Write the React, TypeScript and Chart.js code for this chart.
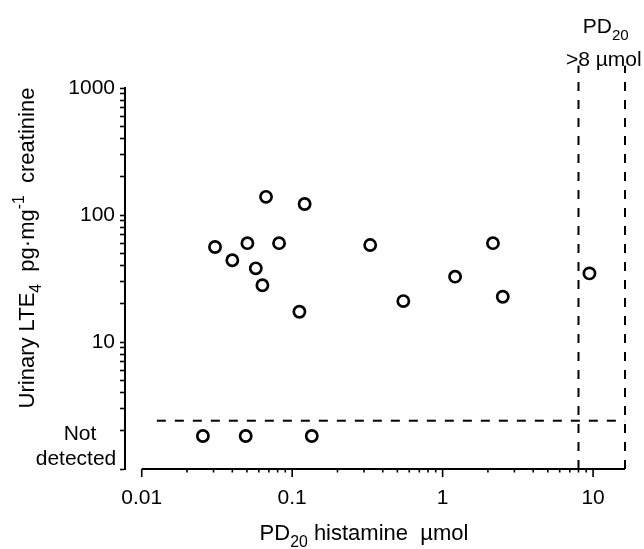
import React, { useEffect, useRef } from 'react';
import { Chart, registerables } from 'chart.js';

Chart.register(...registerables);

// ---- data ----
const pd20Values = [0.0307, 0.040, 0.0504, 0.0573, 0.0634, 0.067, 0.0818, 0.1117, 0.121, 0.330, 0.548, 1.21, 2.16, 2.51, 9.46];
const lte4Values = [56, 44, 60, 38, 28, 139, 60, 17.3, 122, 58, 21, 32.7, 60, 22.7, 34.7];
const pd20NotDetected = [0.0255, 0.0491, 0.135];
const lte4NotDetected = [1.82, 1.82, 1.82];
const detectionLimit = 2.4;
const pd20Cutoff = 8;
const dashTop = 1500;
const hLineStart = 0.0126;

const xMin = 0.00774;
const xMax = 16.3;
const yMin = 1;
const yMax = 1000;

const xMajorTicks = [0.01, 0.1, 1, 10];
const xTickLabels = ['0.01', '0.1', '1', '10'];
const xMinorTicks = [0.02, 0.03, 0.04, 0.05, 0.06, 0.07, 0.08, 0.09, 0.2, 0.3, 0.4, 0.5, 0.6, 0.7, 0.8, 0.9, 2, 3, 4, 5, 6, 7, 8, 9];
const yMajorTicks = [1, 10, 100, 1000];
const yTickLabels = ['', '10', '100', '1000'];
const yMinorTicks = [2, 3, 4, 5, 6, 7, 8, 9, 20, 30, 40, 50, 60, 70, 80, 90, 200, 300, 400, 500, 600, 700, 800, 900];

const INK = '#000';
const FONT = "'Liberation Sans', Arial, Helvetica, sans-serif";

type Seg = { t: string; k?: 'sub' | 'sup' };

function drawRich(ctx: CanvasRenderingContext2D, segs: Seg[], x: number, y: number, size: number, align: 'left' | 'center' | 'right') {
  const small = size * 0.72;
  const widths = segs.map((s) => {
    ctx.font = `${s.k ? small : size}px ${FONT}`;
    return ctx.measureText(s.t).width;
  });
  const total = widths.reduce((a, b) => a + b, 0);
  let cx = align === 'left' ? x : align === 'center' ? x - total / 2 : x - total;
  ctx.textAlign = 'left';
  ctx.textBaseline = 'alphabetic';
  segs.forEach((s, i) => {
    ctx.font = `${s.k ? small : size}px ${FONT}`;
    const dy = s.k === 'sub' ? size * 0.32 : s.k === 'sup' ? -size * 0.45 : 0;
    ctx.fillText(s.t, cx, y + dy);
    cx += widths[i];
  });
}

const decorPlugin = {
  id: 'decor',
  afterDraw(chart: any) {
    const ctx: CanvasRenderingContext2D = chart.ctx;
    const xs = chart.scales.x;
    const ys = chart.scales.y;
    const axisY = ys.getPixelForValue(yMin);
    ctx.save();
    ctx.strokeStyle = INK;
    ctx.fillStyle = INK;
    ctx.lineWidth = 1.6;
    ctx.beginPath();
    xMajorTicks.forEach((v) => {
      const px = xs.getPixelForValue(v);
      ctx.moveTo(px, axisY);
      ctx.lineTo(px, axisY + 8);
    });
    xMinorTicks.forEach((v) => {
      const px = xs.getPixelForValue(v);
      ctx.moveTo(px, axisY);
      ctx.lineTo(px, axisY + 3.5);
    });
    ctx.stroke();

    // y axis title (rotated)
    ctx.save();
    ctx.translate(34, 248);
    ctx.rotate(-Math.PI / 2);
    drawRich(ctx, [
      { t: 'Urinary LTE' }, { t: '4', k: 'sub' }, { t: '  pg·mg' }, { t: '-1', k: 'sup' }, { t: '  creatinine' },
    ], 0, 0, 22, 'center');
    ctx.restore();

    // x axis title
    drawRich(ctx, [{ t: 'PD' }, { t: '20', k: 'sub' }, { t: ' histamine  µmol' }], 364, 540, 22, 'center');

    // header at the right
    const midX = (xs.getPixelForValue(pd20Cutoff) + xs.getPixelForValue(xMax)) / 2 + 2;
    drawRich(ctx, [{ t: 'PD' }, { t: '20', k: 'sub' }], midX + 2, 33, 21, 'center');
    drawRich(ctx, [{ t: '>8 µmol' }], midX, 66, 21, 'center');

    // not detected label
    drawRich(ctx, [{ t: 'Not' }], 80, 440, 21, 'center');
    drawRich(ctx, [{ t: 'detected' }], 76, 465, 21, 'center');
    ctx.restore();
  },
};

export default function App() {
  const ref = useRef<HTMLCanvasElement | null>(null);

  useEffect(() => {
    document.body.style.margin = '0';
    const canvas = ref.current;
    if (!canvas) return;

    const points = pd20Values.map((x, i) => ({ x, y: lte4Values[i] }));
    const ndPoints = pd20NotDetected.map((x, i) => ({ x, y: lte4NotDetected[i] }));

    const dashed = {
      showLine: true,
      pointRadius: 0,
      borderColor: INK,
      borderWidth: 2,
      borderDash: [9, 9],
      clip: false as any,
      fill: false,
    };

    const chart = new Chart(canvas, {
      type: 'scatter',
      data: {
        datasets: [
          { ...dashed, data: [{ x: hLineStart, y: detectionLimit }, { x: xMax, y: detectionLimit }] },
          { ...dashed, data: [{ x: pd20Cutoff, y: yMin }, { x: pd20Cutoff, y: dashTop }] },
          { ...dashed, data: [{ x: xMax, y: yMin }, { x: xMax, y: dashTop }] },
          {
            showLine: true, pointRadius: 0, borderColor: INK, borderWidth: 2, clip: false as any,
            data: [{ x: xMajorTicks[0], y: yMin }, { x: xMax, y: yMin }],
          },
          {
            data: points,
            pointRadius: 5.6,
            pointBorderWidth: 2.7,
            pointBorderColor: INK,
            pointBackgroundColor: '#fff',
            clip: false as any,
          },
          {
            data: ndPoints,
            pointRadius: 5.6,
            pointBorderWidth: 2.7,
            pointBorderColor: INK,
            pointBackgroundColor: '#fff',
            clip: false as any,
          },
        ],
      },
      options: {
        animation: false,
        responsive: false,
        devicePixelRatio: 1,
        layout: { padding: { left: 0, right: 19, top: 88, bottom: 0 } },
        plugins: { legend: { display: false }, tooltip: { enabled: false } },
        scales: {
          x: {
            type: 'logarithmic',
            min: xMin,
            max: xMax,
            border: { display: false },
            grid: { display: false },
            afterBuildTicks: (scale: any) => {
              scale.ticks = xMajorTicks.map((v) => ({ value: v }));
            },
            afterFit: (scale: any) => {
              scale.height = 80;
            },
            ticks: {
              autoSkip: false,
              maxRotation: 0,
              padding: 9,
              color: INK,
              font: { family: FONT, size: 21 },
              callback: (v: any) => {
                const i = xMajorTicks.indexOf(Number(v));
                return i >= 0 ? xTickLabels[i] : '';
              },
            },
          },
          y: {
            type: 'logarithmic',
            min: yMin,
            max: yMax,
            border: { display: true, color: INK, width: 2 },
            grid: { display: true, drawOnChartArea: false, drawTicks: true, tickLength: 5, tickWidth: 1.6, tickColor: INK, color: INK },
            afterBuildTicks: (scale: any) => {
              scale.ticks = [...yMajorTicks, ...yMinorTicks].sort((a, b) => a - b).map((v) => ({ value: v }));
            },
            afterFit: (scale: any) => {
              scale.width = 125;
            },
            ticks: {
              autoSkip: false,
              padding: 5,
              color: INK,
              font: { family: FONT, size: 21 },
              callback: (v: any) => {
                const i = yMajorTicks.indexOf(Number(v));
                return i >= 0 ? yTickLabels[i] : '';
              },
            },
          },
        },
      },
      plugins: [decorPlugin],
    });

    return () => chart.destroy();
  }, []);

  return (
    <div style={{ position: 'fixed', left: 0, top: 0, width: 644, height: 549, background: '#fff' }}>
      <canvas ref={ref} width={644} height={549} />
    </div>
  );
}
